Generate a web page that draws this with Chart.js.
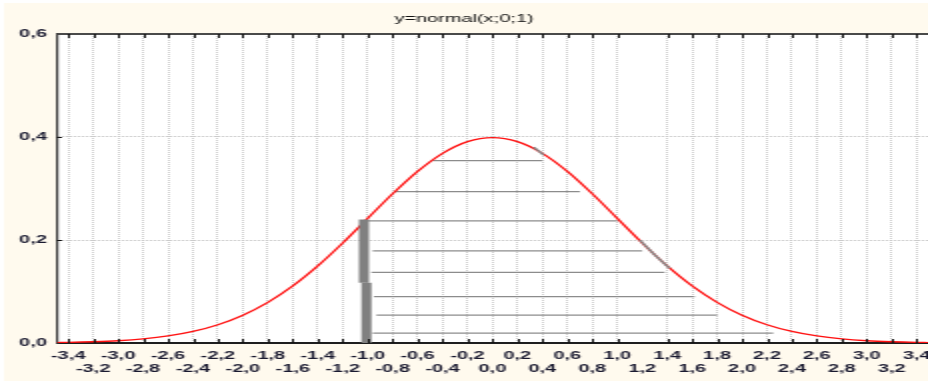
<!DOCTYPE html>
<html>
<head>
<meta charset="utf-8">
<title>y=normal(x;0;1)</title>
<script src="https://cdn.jsdelivr.net/npm/chart.js@4.4.1/dist/chart.umd.min.js"></script>
<style>
  html, body { margin: 0; padding: 0; background: #ffffff; overflow: hidden; }
  /* the reference is a narrow screenshot stretched to twice its width */
  #normalChart { display: block; }
</style>
</head>
<body>
<canvas id="normalChart" width="464" height="384" style="width:928px;height:384px"></canvas>
<script>
// density curve
const curveX = [-3.49, -3.4, -3.2, -3.0, -2.8, -2.6, -2.4, -2.2, -2.0, -1.8, -1.6, -1.4, -1.2, -1.0, -0.8, -0.6, -0.4, -0.2,
  0.0, 0.2, 0.4, 0.6, 0.8, 1.0, 1.2, 1.4, 1.6, 1.8, 2.0, 2.2, 2.4, 2.6, 2.8, 3.0, 3.2, 3.4, 3.49];
const curveY = [0.0009, 0.0012, 0.0024, 0.0044, 0.0079, 0.0136, 0.0224, 0.0355, 0.0540, 0.0790, 0.1109, 0.1497, 0.1942, 0.2420, 0.2897, 0.3332, 0.3683, 0.3910,
  0.3989, 0.3910, 0.3683, 0.3332, 0.2897, 0.2420, 0.1942, 0.1497, 0.1109, 0.0790, 0.0540, 0.0355, 0.0224, 0.0136, 0.0079, 0.0044, 0.0024, 0.0012, 0.0009];

// grey hand-drawn hatching under the curve
const hatchLevels = [0.354, 0.294, 0.237, 0.179, 0.137, 0.090, 0.054, 0.019];
const hatchStart = [-0.48, -0.78, -1.00, -0.96, -0.97, -0.95, -0.93, -0.96];
const hatchEnd = [0.40, 0.70, 1.00, 1.20, 1.38, 1.62, 1.80, 2.25];

// thick grey marker at x = -1
const barX = [-1.03, -1.01];
const barTop = [0.240, 0.117];
const barBottom = [0.117, 0.0];

// grey scribbles over the curve
const scribbleX = [[0.33, 0.37, 0.41], [1.18, 1.30, 1.42]];
const scribbleY = [[0.380, 0.373, 0.365], [0.200, 0.171, 0.145]];

const xTickValues = [-3.4, -3.2, -3.0, -2.8, -2.6, -2.4, -2.2, -2.0, -1.8, -1.6, -1.4, -1.2, -1.0, -0.8, -0.6, -0.4, -0.2,
  0.0, 0.2, 0.4, 0.6, 0.8, 1.0, 1.2, 1.4, 1.6, 1.8, 2.0, 2.2, 2.4, 2.6, 2.8, 3.0, 3.2, 3.4];
const yTickValues = [0.0, 0.2, 0.4, 0.6];

const labelFont = { family: '"Liberation Sans", Arial, sans-serif', size: 10, weight: 'bold', lineHeight: 1.35 };
const labelColor = '#1a1a30';

function formatNumber(value) {
  return (Math.abs(value) < 1e-9 ? 0 : value).toFixed(1).replace('.', ',');
}

function isMissingTick(value) {
  // the vertical grid line at 1.2 is not drawn in the reference
  return Math.abs(value - 1.2) < 1e-6;
}

const framePlugin = {
  id: 'frame',
  beforeDraw(chart) {
    const { ctx, chartArea, width, height } = chart;
    ctx.save();
    ctx.fillStyle = '#fffaee';
    ctx.fillRect(2, 3, width - 2, height - 6);
    ctx.fillStyle = '#ffffff';
    ctx.fillRect(chartArea.left, chartArea.top, chartArea.right - chartArea.left, chartArea.bottom - chartArea.top);
    ctx.restore();
  },
  afterDraw(chart) {
    const { ctx, chartArea, scales } = chart;
    ctx.save();
    ctx.strokeStyle = '#4a4a4a';
    ctx.lineWidth = 2;
    ctx.beginPath();
    ctx.moveTo(chartArea.left, chartArea.top);
    ctx.lineTo(chartArea.right, chartArea.top);
    ctx.stroke();

    // inward tick marks
    ctx.strokeStyle = '#111111';
    ctx.lineWidth = 1;
    ctx.beginPath();
    xTickValues.forEach(v => {
      if (isMissingTick(v)) {
        return;
      }
      const px = Math.round(scales.x.getPixelForValue(v)) + 0.5;
      ctx.moveTo(px, chartArea.top);
      ctx.lineTo(px, chartArea.top + 4);
      ctx.moveTo(px, chartArea.bottom);
      ctx.lineTo(px, chartArea.bottom - 4);
    });
    yTickValues.slice(1, -1).forEach(v => {
      const py = Math.round(scales.y.getPixelForValue(v)) + 0.5;
      ctx.moveTo(chartArea.left, py);
      ctx.lineTo(chartArea.left + 2.5, py);
    });
    ctx.stroke();
    ctx.restore();
  }
};

function buildDatasets() {
  const datasets = [];
  hatchLevels.forEach((level, i) => {
    datasets.push({
      data: [{ x: hatchStart[i], y: level }, { x: hatchEnd[i], y: level }],
      borderColor: '#8c8c8c',
      borderWidth: 1.2,
      order: 3
    });
  });
  datasets.push({
    data: curveX.map((x, i) => ({ x, y: curveY[i] })),
    borderColor: '#ff1010',
    borderWidth: 1.3,
    cubicInterpolationMode: 'monotone',
    order: 2
  });
  barX.forEach((x, i) => {
    datasets.push({
      data: [{ x, y: barTop[i] }, { x, y: barBottom[i] }],
      borderColor: '#808080',
      borderWidth: 5,
      borderCapStyle: 'butt',
      order: 1
    });
  });
  scribbleX.forEach((xs, i) => {
    datasets.push({
      data: xs.map((x, j) => ({ x, y: scribbleY[i][j] })),
      borderColor: '#8a8a8a',
      borderWidth: 1.5,
      order: 1
    });
  });
  return datasets;
}

document.addEventListener('DOMContentLoaded', () => {
  const canvas = document.getElementById('normalChart');
  new Chart(canvas, {
    type: 'scatter',
    data: { datasets: buildDatasets() },
    plugins: [framePlugin],
    options: {
      responsive: false,
      animation: false,
      devicePixelRatio: 1,
      showLine: true,
      layout: { padding: 0 },
      elements: { point: { radius: 0, hoverRadius: 0 }, line: { fill: false } },
      plugins: {
        legend: { display: false },
        tooltip: { enabled: false },
        title: {
          display: true,
          text: 'y=normal(x;0;1)',
          color: '#111111',
          font: { family: '"Liberation Sans", Arial, sans-serif', size: 10, weight: 'normal', lineHeight: 1.2 },
          padding: { top: 13, bottom: 9 }
        }
      },
      scales: {
        x: {
          type: 'linear',
          min: -3.49,
          max: 3.49,
          afterBuildTicks: scale => {
            scale.ticks = xTickValues.map(v => ({ value: v }));
          },
          afterFit: scale => {
            scale.height = 41;
            scale.paddingLeft = 0;
            scale.paddingRight = 0;
          },
          ticks: {
            autoSkip: false,
            maxRotation: 0,
            padding: 6,
            font: labelFont,
            color: labelColor,
            callback: (value, index) => {
              const label = formatNumber(value);
              return index % 2 === 0 ? [label, ''] : ['', label];
            }
          },
          grid: {
            drawTicks: false,
            lineWidth: 1,
            color: ctx => (ctx.tick && isMissingTick(ctx.tick.value) ? 'rgba(0,0,0,0)' : '#cdcdcd')
          },
          border: { display: true, color: '#1e1e1e', width: 2, dash: [1, 1] }
        },
        y: {
          type: 'linear',
          min: 0,
          max: 0.6,
          afterBuildTicks: scale => {
            scale.ticks = yTickValues.map(v => ({ value: v }));
          },
          afterFit: scale => {
            scale.width = 28.5;
          },
          ticks: {
            padding: 5,
            font: labelFont,
            color: labelColor,
            callback: value => formatNumber(value)
          },
          grid: { drawTicks: false, lineWidth: 1, color: '#c0c0c0' },
          border: { display: true, color: '#3c3c3c', width: 1.2, dash: [1, 1] }
        }
      }
    }
  });
});
</script>
</body>
</html>
